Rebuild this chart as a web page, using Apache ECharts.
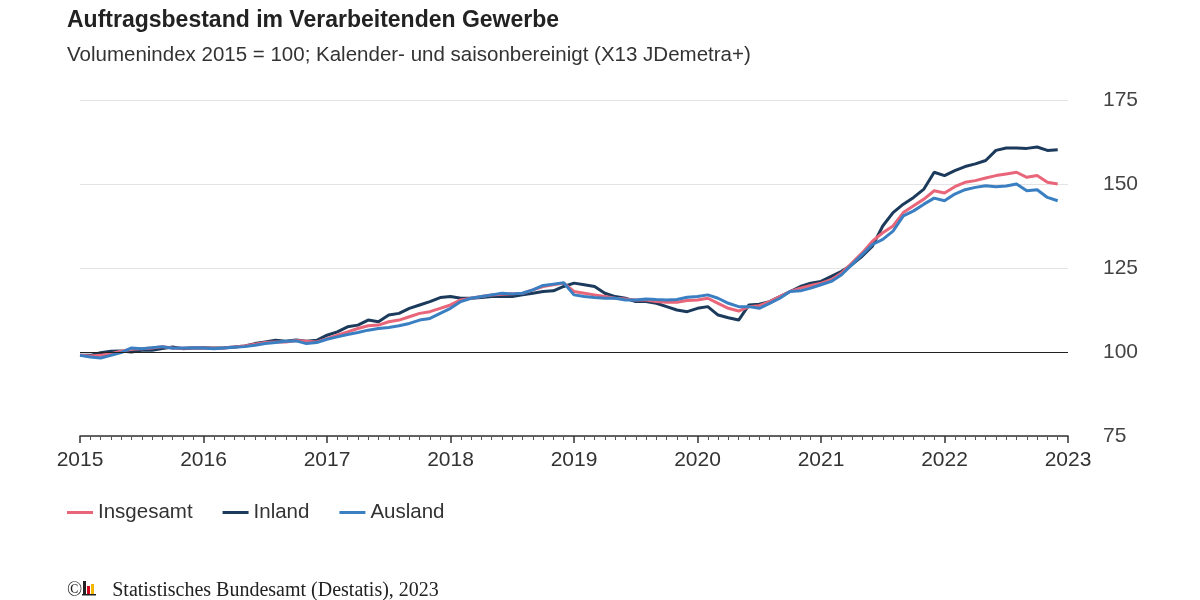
<!DOCTYPE html>
<html><head><meta charset="utf-8">
<script src="https://cdn.jsdelivr.net/npm/echarts@6/dist/echarts.min.js"></script>
<style>html,body{margin:0;padding:0;background:#fff}#c{width:1200px;height:600px}</style>
</head><body><div id="c"></div>
<script>
// monthly values Jan 2015 .. Dec 2022
const insgesamt = [
  99, 98.8, 99, 99.5, 100.2, 100.8, 101, 101.2, 101.6, 101.2, 101.1, 101.3,
  101.2, 101.1, 101.2, 101.5, 101.8, 102.3, 102.8, 103, 103, 103.4, 103.2, 103,
  104, 105, 106, 107, 107.8, 108, 109, 109.5, 110.5, 111.5, 112, 113,
  114, 115.5, 116, 116.5, 117, 117.2, 117.3, 117.5, 118.5, 119.5, 120, 120.5,
  118, 117.5, 117, 116.5, 116, 115.8, 115.5, 115.5, 115, 114.8, 114.8, 115.3,
  115.5, 116, 114.5, 113, 112.2, 113.5, 113.8, 115, 116.5, 118, 119, 119.8,
  120.5, 121.5, 123.5, 126.5, 129.5, 133, 135.5, 137.5, 141.5, 143.5, 145.5, 148,
  147.3, 149.2, 150.5, 151, 151.8, 152.5, 153, 153.5, 152, 152.5, 150.5, 150
];
const inland = [
  99, 99, 99.8, 100.2, 100.3, 100, 100.5, 100.5, 101, 101.5, 101, 101.2,
  101.3, 101.2, 101.3, 101.5, 101.8, 102.5, 103, 103.5, 103.2, 103.6, 103.2, 103.5,
  105, 106, 107.5, 108, 109.5, 109, 111, 111.5, 113, 114, 115, 116.2,
  116.5, 116, 116, 116.2, 116.5, 116.5, 116.5, 117, 117.5, 118, 118.2, 119.5,
  120.5, 120, 119.5, 117.5, 116.5, 116, 115, 115, 114.5, 113.5, 112.5, 112,
  113, 113.5, 111, 110.2, 109.5, 114, 114.2, 115, 116.5, 118, 119.5, 120.5,
  121, 122.5, 124, 126, 128.5, 131.5, 137.5, 141.5, 144, 146, 148.5, 153.5,
  152.5, 154, 155.2, 156, 157, 160, 160.7, 160.7, 160.6, 161, 160, 160.2
];
const ausland = [
  99, 98.5, 98.2, 99, 99.8, 101.2, 101, 101.3, 101.6, 101.1, 101.2, 101.3,
  101.2, 101, 101.2, 101.4, 101.6, 102, 102.5, 102.8, 103.2, 103.3, 102.5, 102.8,
  103.8, 104.5, 105.2, 105.8, 106.5, 107, 107.3, 107.8, 108.5, 109.5, 110, 111.5,
  113, 115, 116, 116.5, 117, 117.5, 117.3, 117.5, 118.5, 119.8, 120.2, 120.6,
  117, 116.5, 116.2, 116, 116, 115.5, 115.5, 115.8, 115.6, 115.5, 115.6, 116.3,
  116.5, 117, 116, 114.5, 113.5, 113.5, 113, 114.5, 116, 118, 118.2, 119,
  120, 121, 123, 126, 129, 132, 133.5, 136, 140.5, 142, 144, 145.8,
  145, 147, 148.3, 149, 149.5, 149.2, 149.4, 150, 148, 148.3, 146, 145
];
const startYear = 2015;
const yTicks = [75, 100, 125, 150, 175];

const pts = arr => arr.map((v, i) => [i, v]);
const chart = echarts.init(document.getElementById('c'));
const font = '"Liberation Sans", Arial, sans-serif';
chart.setOption({
  animation: false,
  textStyle: {fontFamily: font},
  title: [
    {text: 'Auftragsbestand im Verarbeitenden Gewerbe', left: 62, top: 4,
     textStyle: {fontSize: 23, fontWeight: 'bold', color: '#222', fontFamily: font}},
    {text: 'Volumenindex 2015 = 100; Kalender- und saisonbereinigt (X13 JDemetra+)', left: 62, top: 40,
     textStyle: {fontSize: 20.5, fontWeight: 'normal', color: '#333', fontFamily: font}},
    {text: '©      Statistisches Bundesamt (Destatis), 2023', left: 62, top: 576,
     textStyle: {fontSize: 20, fontWeight: 'normal', color: '#222', fontFamily: '"Liberation Serif", serif'}}
  ],
  graphic: [
    {type: 'rect', shape: {x: 83, y: 581, width: 3, height: 13}, style: {fill: '#222'}},
    {type: 'rect', shape: {x: 87, y: 586, width: 3, height: 8}, style: {fill: '#d0021b'}},
    {type: 'rect', shape: {x: 91, y: 584, width: 3, height: 10}, style: {fill: '#f5b700'}},
    {type: 'rect', shape: {x: 82, y: 594, width: 14, height: 1.5}, style: {fill: '#222'}}
  ],
  legend: {
    left: 62, top: 497, itemWidth: 26, itemHeight: 3, itemGap: 30, icon: 'rect',
    textStyle: {fontSize: 20.5, color: '#333', fontFamily: font},
    data: ['Insgesamt', 'Inland', 'Ausland']
  },
  grid: {left: 80, right: 132, top: 100, bottom: 164},
  xAxis: {
    type: 'value', min: 0, max: 96, interval: 12,
    axisLine: {show: true, onZero: false, lineStyle: {color: '#333', width: 1.5}},
    axisTick: {show: true, length: 7, lineStyle: {color: '#333', width: 1.5}},
    minorTick: {show: true, splitNumber: 12, length: 4, lineStyle: {color: '#555'}},
    splitLine: {show: false},
    axisLabel: {fontSize: 21, color: '#333', margin: 14,
      formatter: v => String(startYear + v / 12)}
  },
  yAxis: {
    type: 'value', position: 'right', min: yTicks[0], max: yTicks[yTicks.length - 1], interval: 25,
    axisLine: {show: false}, axisTick: {show: false},
    splitLine: {lineStyle: {color: '#e3e3e3', width: 1}},
    axisLabel: {fontSize: 21, color: '#444', margin: 35}
  },
  series: [
    {name: 'Insgesamt', type: 'line', data: pts(insgesamt), showSymbol: false, z: 3,
     lineStyle: {width: 3, color: '#e8657a'}, itemStyle: {color: '#e8657a'},
     markLine: {silent: true, symbol: 'none', label: {show: false},
       lineStyle: {color: '#222', width: 1.2, type: 'solid'}, data: [{yAxis: 100}]}},
    {name: 'Inland', type: 'line', data: pts(inland), showSymbol: false, z: 2,
     lineStyle: {width: 3, color: '#1b3a5c'}, itemStyle: {color: '#1b3a5c'}},
    {name: 'Ausland', type: 'line', data: pts(ausland), showSymbol: false, z: 4,
     lineStyle: {width: 3, color: '#3a7fc1'}, itemStyle: {color: '#3a7fc1'}}
  ]
});
</script></body></html>
